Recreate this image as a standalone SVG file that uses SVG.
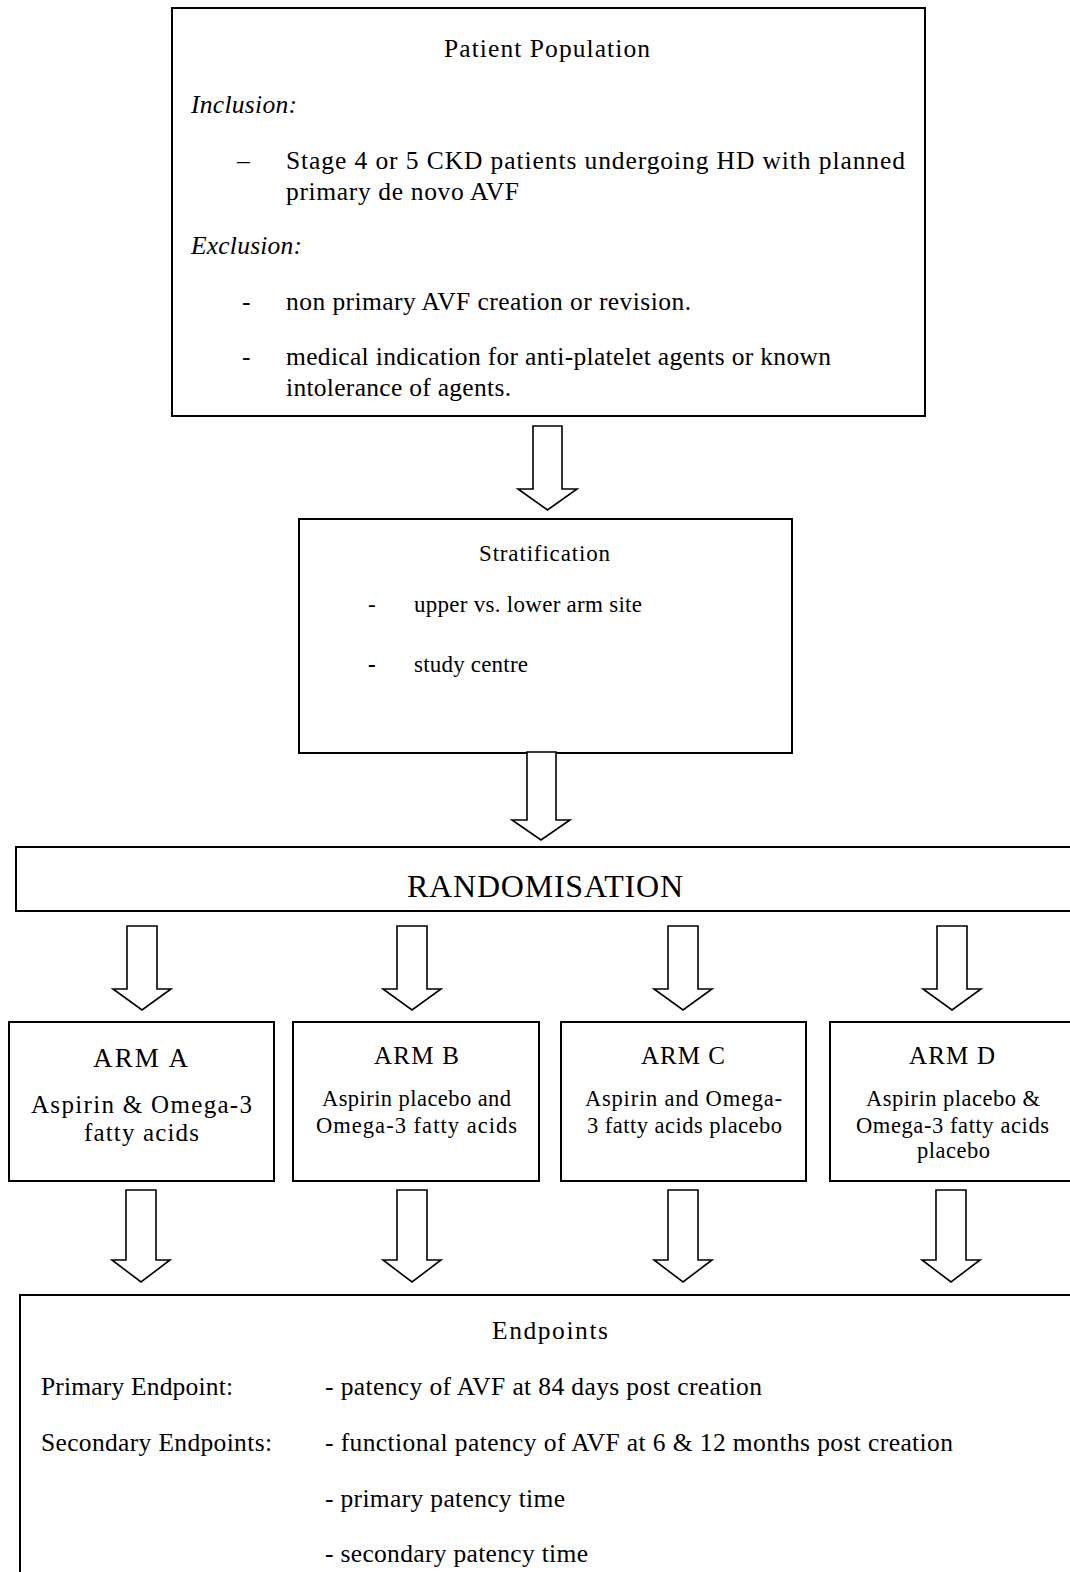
<svg xmlns="http://www.w3.org/2000/svg" width="1070" height="1572" viewBox="0 0 1070 1572">
<style>
.box{fill:#fff;stroke:#000;stroke-width:2}
.arr{fill:#fff;stroke:#000;stroke-width:1.6;stroke-linejoin:miter}
text{font-family:"Liberation Serif","Times New Roman",serif;fill:#000}
.tp{font-size:25.5px}
.ts{font-size:23px}
.ta{font-size:25px}
.tb{font-size:22.5px}
.te{font-size:25.5px}
.it{font-style:italic}
</style>
<rect width="1070" height="1572" fill="#fff"/>

<g id="population">
<rect class="box" x="172" y="8" width="753" height="408"/>
<text class="tp" x="444" y="57" textLength="206" lengthAdjust="spacing">Patient Population</text>
<text class="tp it" x="191" y="113" textLength="106" lengthAdjust="spacing">Inclusion:</text>
<text class="tp" x="237" y="169">–</text>
<text class="tp" x="286" y="169" textLength="619" lengthAdjust="spacing">Stage 4 or 5 CKD patients undergoing HD with planned</text>
<text class="tp" x="286" y="200" textLength="233" lengthAdjust="spacing">primary de novo AVF</text>
<text class="tp it" x="191" y="254" textLength="111" lengthAdjust="spacing">Exclusion:</text>
<text class="tp" x="242" y="310">-</text>
<text class="tp" x="286" y="310" textLength="405" lengthAdjust="spacing">non primary AVF creation or revision.</text>
<text class="tp" x="242" y="365">-</text>
<text class="tp" x="286" y="365" textLength="545" lengthAdjust="spacing">medical indication for anti-platelet agents or known</text>
<text class="tp" x="286" y="396" textLength="225" lengthAdjust="spacing">intolerance of agents.</text>
</g>

<g id="stratification">
<rect class="box" x="299" y="519" width="493" height="234"/>
<text class="ts" x="479" y="561" textLength="131" lengthAdjust="spacing">Stratification</text>
<text class="ts" x="368" y="612">-</text>
<text class="ts" x="414" y="612" textLength="228" lengthAdjust="spacing">upper vs. lower arm site</text>
<text class="ts" x="368" y="672" font-weight="bold">-</text>
<text class="ts" x="414" y="672" textLength="114" lengthAdjust="spacing">study centre</text>
</g>

<g id="randomisation">
<rect class="box" x="16" y="847" width="1070" height="64"/>
<text x="407" y="897" font-size="32" textLength="276" lengthAdjust="spacing">RANDOMISATION</text>
</g>

<g id="armA">
<rect class="box" x="9" y="1022" width="265" height="159"/>
<text x="93" y="1067" font-size="27" textLength="95" lengthAdjust="spacing">ARM A</text>
<text class="ta" x="31" y="1113" textLength="221" lengthAdjust="spacing">Aspirin &amp; Omega-3</text>
<text class="ta" x="84" y="1141" textLength="115" lengthAdjust="spacing">fatty acids</text>
</g>

<g id="armB">
<rect class="box" x="293" y="1022" width="246" height="159"/>
<text class="ta" x="374" y="1064" textLength="85" lengthAdjust="spacing">ARM B</text>
<text class="tb" x="322" y="1106" textLength="189" lengthAdjust="spacing">Aspirin placebo and</text>
<text class="tb" x="316" y="1133" textLength="201" lengthAdjust="spacing">Omega-3 fatty acids</text>
</g>

<g id="armC">
<rect class="box" x="561" y="1022" width="245" height="159"/>
<text class="ta" x="641" y="1064" textLength="84" lengthAdjust="spacing">ARM C</text>
<text class="tb" x="585" y="1106" textLength="197" lengthAdjust="spacing">Aspirin and Omega-</text>
<text class="tb" x="587" y="1133" textLength="195" lengthAdjust="spacing">3 fatty acids placebo</text>
</g>

<g id="armD">
<rect class="box" x="830" y="1022" width="260" height="159"/>
<text class="ta" x="909" y="1064" textLength="86" lengthAdjust="spacing">ARM D</text>
<text class="tb" x="866" y="1106" textLength="174" lengthAdjust="spacing">Aspirin placebo &amp;</text>
<text class="tb" x="856" y="1133" textLength="193" lengthAdjust="spacing">Omega-3 fatty acids</text>
<text class="tb" x="917" y="1158" textLength="73" lengthAdjust="spacing">placebo</text>
</g>

<g id="endpoints">
<rect class="box" x="20" y="1295" width="1070" height="300"/>
<text class="te" x="492" y="1339" textLength="116" lengthAdjust="spacing">Endpoints</text>
<text class="te" x="41" y="1395" textLength="192" lengthAdjust="spacing">Primary Endpoint:</text>
<text class="te" x="325" y="1395" textLength="437" lengthAdjust="spacing">- patency of AVF at 84 days post creation</text>
<text class="te" x="41" y="1451" textLength="231" lengthAdjust="spacing">Secondary Endpoints:</text>
<text class="te" x="325" y="1451" textLength="628" lengthAdjust="spacing">- functional patency of AVF at 6 &amp; 12 months post creation</text>
<text class="te" x="325" y="1507" textLength="240" lengthAdjust="spacing">- primary patency time</text>
<text class="te" x="325" y="1562" textLength="263" lengthAdjust="spacing">- secondary patency time</text>
</g>

<g id="connectors">
<polygon class="arr" points="533,426 562,426 562,489 577,489 547.5,510 518,489 533,489"/>
<polygon class="arr" points="527,752 556,752 556,820 570,820 541,840 512,820 527,820"/>
<polygon class="arr" points="127,926 157,926 157,989 171,989 142,1010 113,989 127,989"/>
<polygon class="arr" points="397,926 427,926 427,989 441,989 412,1010 383,989 397,989"/>
<polygon class="arr" points="668,926 698,926 698,989 712,989 683,1010 654,989 668,989"/>
<polygon class="arr" points="937,926 967,926 967,989 981,989 952,1010 923,989 937,989"/>
<polygon class="arr" points="126,1190 156,1190 156,1260 170,1260 141,1282 112,1260 126,1260"/>
<polygon class="arr" points="397,1190 427,1190 427,1260 441,1260 412,1282 383,1260 397,1260"/>
<polygon class="arr" points="668,1190 698,1190 698,1260 712,1260 683,1282 654,1260 668,1260"/>
<polygon class="arr" points="936,1190 966,1190 966,1260 980,1260 951,1282 922,1260 936,1260"/>
</g>
</svg>
